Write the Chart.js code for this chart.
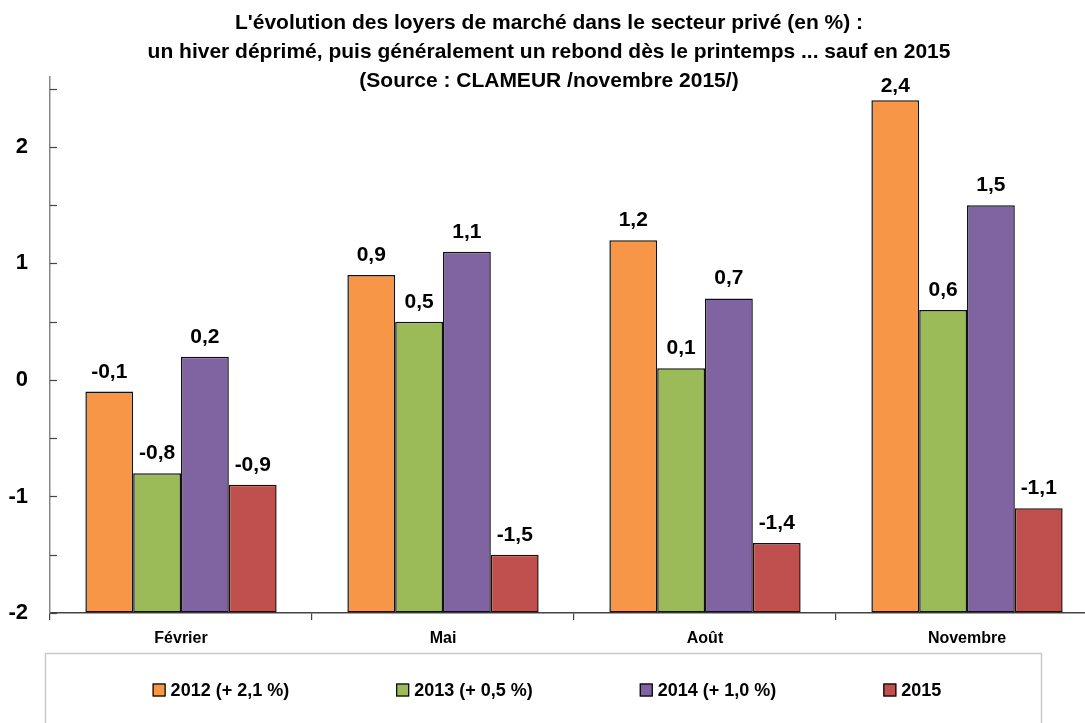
<!DOCTYPE html>
<html>
<head>
<meta charset="utf-8">
<script src="https://cdn.jsdelivr.net/npm/chart.js@4"></script>
<style>
  html, body { margin: 0; padding: 0; background: #fff; }
  #wrap { width: 1085px; height: 723px; overflow: hidden; position: relative; }
  #chart { display: block; }
</style>
</head>
<body>
<div id="wrap"><canvas id="chart" width="1100" height="723"></canvas></div>
<script>
const titleLines = [
  "L'évolution des loyers de marché dans le secteur privé (en %) :",
  "un hiver déprimé, puis généralement un rebond dès le printemps ... sauf en 2015",
  "(Source : CLAMEUR /novembre 2015/)"
];
const months = ["Février", "Mai", "Août", "Novembre"];
const seriesNames = ["2012 (+ 2,1 %)", "2013 (+ 0,5 %)", "2014 (+ 1,0 %)", "2015"];
const values2012 = [-0.1, 0.9, 1.2, 2.4];
const values2013 = [-0.8, 0.5, 0.1, 0.6];
const values2014 = [0.2, 1.1, 0.7, 1.5];
const values2015 = [-0.9, -1.5, -1.4, -1.1];
const yTicks = [-2, -1.5, -1, -0.5, 0, 0.5, 1, 1.5, 2, 2.5];

const colors = ["#F79646", "#9BBB59", "#8064A2", "#C0504D"];
const FONT = '"Liberation Sans", Arial, sans-serif';

// labels above each bar, kept inside the plot area like Excel does
const barLabels = {
  id: "barLabels",
  afterDatasetsDraw(chart) {
    const ctx = chart.ctx;
    const top = chart.chartArea.top;
    ctx.save();
    ctx.font = "bold 21px " + FONT;
    ctx.fillStyle = "#000";
    ctx.textAlign = "center";
    ctx.textBaseline = "alphabetic";
    chart.data.datasets.forEach((ds, i) => {
      chart.getDatasetMeta(i).data.forEach((bar, j) => {
        const txt = String(ds.data[j]).replace(".", ",");
        const y = Math.max(bar.y - 14, top + 15);
        ctx.fillText(txt, bar.x, y);
      });
    });
    ctx.restore();
  }
};

// small tick marks pointing into the plot on the value axis
const innerTicks = {
  id: "innerTicks",
  afterDraw(chart) {
    const ctx = chart.ctx;
    const y = chart.scales.y;
    const left = chart.chartArea.left;
    ctx.save();
    ctx.strokeStyle = "#444";
    ctx.lineWidth = 1.2;
    y.ticks.forEach(t => {
      const py = Math.round(y.getPixelForValue(t.value)) + 0.5;
      ctx.beginPath();
      ctx.moveTo(left, py);
      ctx.lineTo(left + 7, py);
      ctx.stroke();
    });
    ctx.restore();
  }
};

// legend in a framed box under the chart
const boxLegend = {
  id: "boxLegend",
  afterDraw(chart) {
    const ctx = chart.ctx;
    ctx.save();
    ctx.strokeStyle = "#C8C8C8";
    ctx.lineWidth = 1.5;
    ctx.strokeRect(45.5, 653.5, 996, 120);
    ctx.font = "bold 18px " + FONT;
    const sq = 13, gap = 107;
    const widths = chart.data.datasets.map(d => sq + 5 + ctx.measureText(d.label).width);
    const total = widths.reduce((a, b) => a + b, 0) + gap * (widths.length - 1);
    let x = 547 - total / 2;
    const y = 690;
    ctx.textBaseline = "middle";
    ctx.textAlign = "left";
    chart.data.datasets.forEach((d, i) => {
      ctx.fillStyle = d.backgroundColor;
      ctx.fillRect(x, y - sq / 2, sq, sq);
      ctx.strokeStyle = "#000";
      ctx.lineWidth = 1.2;
      ctx.strokeRect(x + 0.5, y - sq / 2 + 0.5, sq - 1, sq - 1);
      ctx.fillStyle = "#000";
      ctx.fillText(d.label, x + sq + 5, y + 1);
      x += widths[i] + gap;
    });
    ctx.restore();
  }
};

const allValues = [values2012, values2013, values2014, values2015];

new Chart(document.getElementById("chart").getContext("2d"), {
  type: "bar",
  data: {
    labels: months,
    datasets: allValues.map((vals, i) => ({
      label: seriesNames[i],
      data: vals,
      backgroundColor: colors[i],
      borderColor: "#111",
      borderWidth: 1.5,
      borderSkipped: false,
      base: -2
    }))
  },
  options: {
    responsive: false,
    animation: false,
    datasets: { bar: { categoryPercentage: 0.73, barPercentage: 1.0 } },
    layout: { padding: { left: 0, right: 2, top: 0, bottom: 0 } },
    plugins: {
      legend: { display: false },
      tooltip: { enabled: false },
      title: {
        display: true,
        text: titleLines,
        color: "#000",
        font: { family: FONT, size: 21, weight: "bold", lineHeight: 29 / 21 },
        padding: { top: 9, bottom: -19 }
      }
    },
    scales: {
      x: {
        offset: true,
        grid: {
          offset: true,
          drawOnChartArea: false,
          drawTicks: true,
          tickLength: 7,
          color: "#444",
          lineWidth: 1.2
        },
        border: { color: "#444", width: 1.5 },
        ticks: {
          color: "#000",
          font: { family: FONT, size: 16, weight: "bold" },
          padding: 9
        },
        afterFit(scale) { scale.height = 110; }
      },
      y: {
        min: -2,
        max: 2.6,
        afterBuildTicks(scale) { scale.ticks = yTicks.map(v => ({ value: v })); },
        grid: { drawOnChartArea: false, drawTicks: false },
        border: { color: "#888", width: 1.5 },
        ticks: {
          color: "#000",
          font: { family: FONT, size: 22, weight: "bold" },
          padding: 22,
          callback: v => Number.isInteger(v) ? String(v) : ""
        },
        afterFit(scale) { scale.width = 50; }
      }
    }
  },
  plugins: [barLabels, innerTicks, boxLegend]
});
</script>
</body>
</html>
